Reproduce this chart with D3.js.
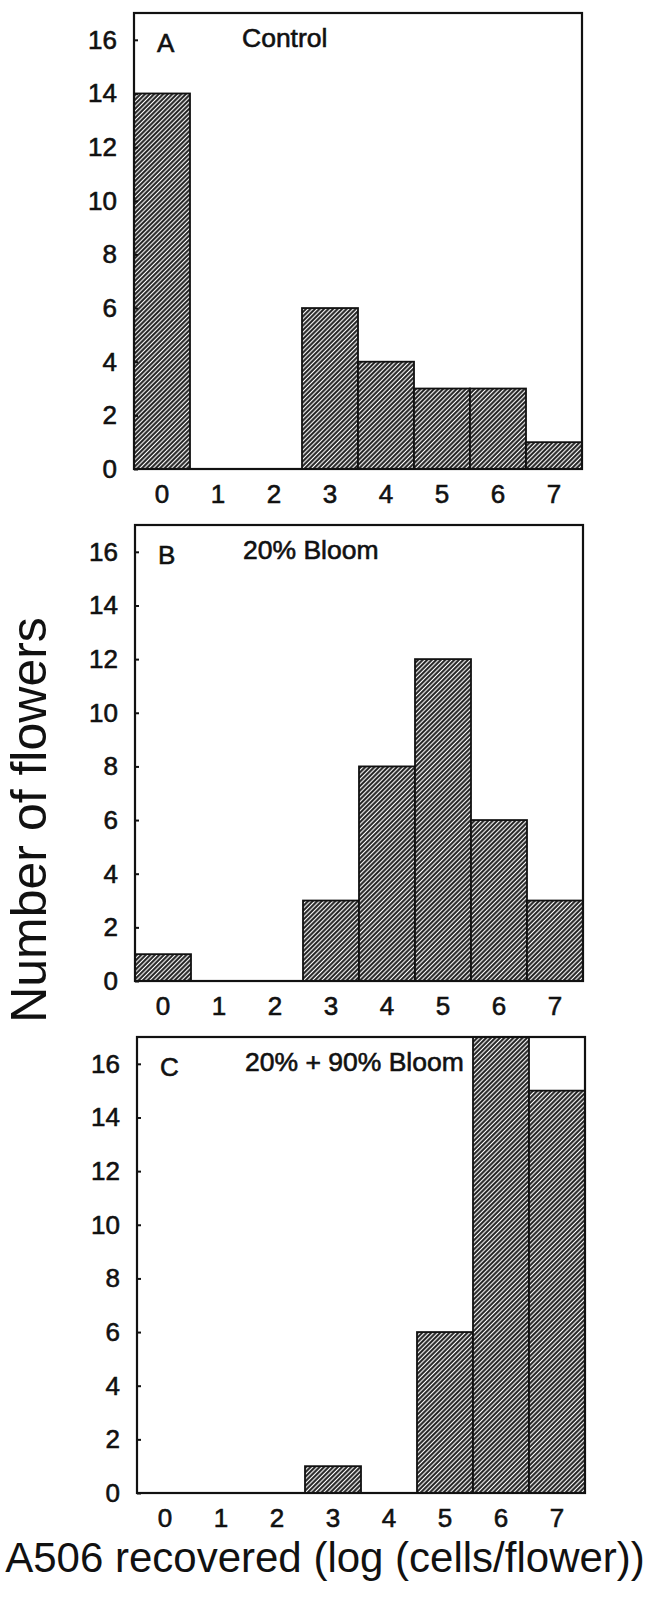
<!DOCTYPE html>
<html>
<head>
<meta charset="utf-8">
<script src="https://cdn.jsdelivr.net/npm/d3@7"></script>
<style>
  body { margin: 0; background: #fff; }
  text { font-family: "Liberation Sans", Arial, Helvetica, sans-serif; fill: #111; }
  .lbl { stroke: #111; stroke-width: 0.6px; }
</style>
</head>
<body>
<script>
var bins = ["0", "1", "2", "3", "4", "5", "6", "7"];
var yTicks = [0, 2, 4, 6, 8, 10, 12, 14, 16];
var controlCounts = [14, 0, 0, 6, 4, 3, 3, 1];
var bloom20Counts = [1, 0, 0, 3, 8, 12, 6, 3];
var bloom90Counts = [0, 0, 0, 1, 0, 6, 17, 15];
var panelLetters = ["A", "B", "C"];
var panelTitles = ["Control", "20% Bloom", "20% + 90% Bloom"];

var panels = [
  {letter: panelLetters[0], title: panelTitles[0], counts: controlCounts, left: 134, top: 13},
  {letter: panelLetters[1], title: panelTitles[1], counts: bloom20Counts, left: 135, top: 525},
  {letter: panelLetters[2], title: panelTitles[2], counts: bloom90Counts, left: 137, top: 1037}
];

var width = 448,
    height = 456;

var svg = d3.select("body").append("svg")
    .attr("width", 650)
    .attr("height", 1602);

// dense diagonal hatching like the printed figure
var pattern = svg.append("defs").append("pattern")
    .attr("id", "hatch")
    .attr("patternUnits", "userSpaceOnUse")
    .attr("width", 3.2)
    .attr("height", 3.2)
    .attr("patternTransform", "rotate(45)");
pattern.append("rect")
    .attr("width", 3.2)
    .attr("height", 3.2)
    .attr("fill", "#fff");
pattern.append("line")
    .attr("x1", 1.2).attr("y1", 0)
    .attr("x2", 1.2).attr("y2", 3.2)
    .attr("stroke", "#1a1a1a")
    .attr("stroke-width", 2.0);

var x = d3.scaleBand()
    .domain(bins)
    .range([0, width])
    .padding(0);

var y = d3.scaleLinear()
    .domain([0, 17])
    .range([height, 0]);

panels.forEach(function (p) {
  var g = svg.append("g")
      .attr("transform", "translate(" + p.left + "," + p.top + ")");

  var barData = p.counts.map(function (c, i) {
    return {bin: bins[i], count: c};
  }).filter(function (d) { return d.count > 0; });

  g.selectAll(".bar")
      .data(barData)
      .enter()
      .append("rect")
      .attr("class", "bar")
      .attr("x", function (d) { return x(d.bin); })
      .attr("y", function (d) { return y(Math.min(d.count, 17)); })
      .attr("width", x.bandwidth())
      .attr("height", function (d) { return height - y(Math.min(d.count, 17)); })
      .attr("fill", "url(#hatch)")
      .attr("stroke", "#111")
      .attr("stroke-width", 1.8);

  // frame
  g.append("rect")
      .attr("x", 0)
      .attr("y", 0)
      .attr("width", width)
      .attr("height", height)
      .attr("fill", "none")
      .attr("stroke", "#111")
      .attr("stroke-width", 2.2);

  var yAxis = g.append("g")
      .call(d3.axisLeft(y).tickValues(yTicks).tickSize(4).tickPadding(13));
  yAxis.select(".domain").remove();
  yAxis.selectAll(".tick line").attr("x2", 4).attr("stroke", "#111").attr("stroke-width", 2);
  yAxis.selectAll("text")
      .attr("class", "lbl")
      .style("font-size", "26px")
      .attr("font-family", null);

  var xAxis = g.append("g")
      .attr("transform", "translate(0," + height + ")")
      .call(d3.axisBottom(x).tickSize(0).tickPadding(16));
  xAxis.select(".domain").remove();
  xAxis.selectAll("text")
      .attr("class", "lbl")
      .style("font-size", "26px")
      .attr("font-family", null);

  g.append("text")
      .attr("class", "lbl")
      .attr("x", 23)
      .attr("y", 39)
      .style("font-size", "26px")
      .text(p.letter);

  g.append("text")
      .attr("class", "lbl")
      .attr("x", 108)
      .attr("y", 34)
      .style("font-size", "26.5px")
      .text(p.title);
});

svg.append("text")
    .attr("transform", "translate(46,820) rotate(-90)")
    .attr("text-anchor", "middle")
    .style("font-size", "50px")
    .text("Number of flowers");

svg.append("text")
    .attr("x", 325)
    .attr("y", 1572)
    .attr("text-anchor", "middle")
    .style("font-size", "42px")
    .text("A506 recovered (log (cells/flower))");
</script>
</body>
</html>
